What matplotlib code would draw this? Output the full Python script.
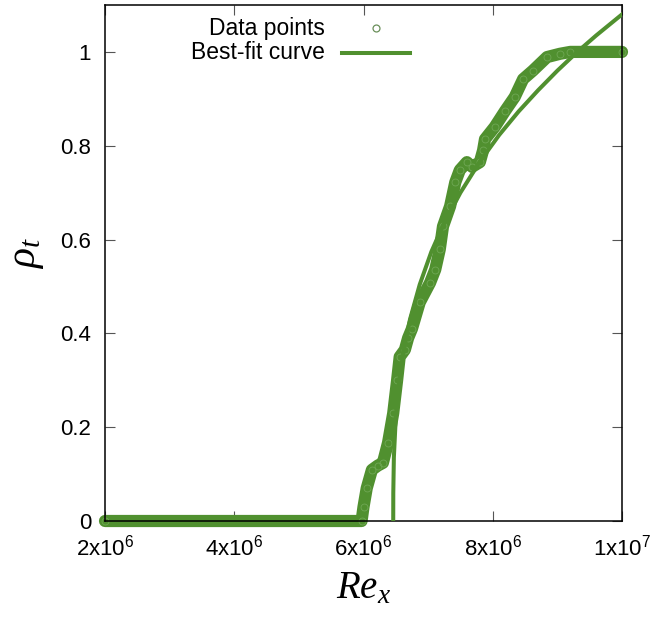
import numpy as np
import matplotlib.pyplot as plt

plt.rcParams['font.family'] = ['Liberation Sans', 'DejaVu Sans']
plt.rcParams['mathtext.fontset'] = 'custom'
plt.rcParams['mathtext.rm'] = 'Liberation Sans'
plt.rcParams['mathtext.it'] = 'Liberation Serif:italic'

# data points (Re_x in units of 1e6, rho_t)
data_x = [2.00, 5.97, 6.00, 6.05, 6.13, 6.22, 6.30, 6.38, 6.46, 6.52, 6.56, 6.64,
          6.69, 6.75, 6.87, 7.03, 7.11, 7.18, 7.23, 7.34, 7.42, 7.49, 7.60, 7.68,
          7.80, 7.85, 7.88, 8.03, 8.19, 8.34, 8.47, 8.62, 8.84, 9.04, 9.20, 10.0]
data_y = [0.0, 0.0, 0.03, 0.07, 0.109, 0.118, 0.124, 0.167, 0.23, 0.30, 0.35, 0.365,
          0.39, 0.41, 0.466, 0.508, 0.536, 0.579, 0.628, 0.671, 0.722, 0.748, 0.765, 0.755,
          0.765, 0.79, 0.814, 0.84, 0.874, 0.904, 0.942, 0.96, 0.989, 0.996, 1.0, 1.0]

# best-fit curve
fit_x = [6.460, 6.461, 6.47, 6.50, 6.55, 6.62, 6.72, 6.87, 7.05, 7.23, 7.50,
         7.80, 8.10, 8.40, 8.70, 9.00, 9.30, 9.60, 10.0]
fit_y = [0.0, 0.06, 0.136, 0.222, 0.295, 0.362, 0.43, 0.504, 0.574, 0.63, 0.70,
         0.766, 0.823, 0.873, 0.918, 0.96, 0.999, 1.035, 1.08]

xticks = [2, 4, 6, 8, 10]
xticklabels = [r'$\mathregular{2x10^{6}}$', r'$\mathregular{4x10^{6}}$', r'$\mathregular{6x10^{6}}$',
               r'$\mathregular{8x10^{6}}$', r'$\mathregular{1x10^{7}}$']
yticks = [0, 0.2, 0.4, 0.6, 0.8, 1]
yticklabels = ['0', '0.2', '0.4', '0.6', '0.8', '1']

green = '#50902f'

fig = plt.figure(figsize=(6.57, 6.17), dpi=100)
ax = fig.add_axes([105/657, 96/617, 517/657, 516/617])

ax.plot(data_x, data_y, color=green, lw=8.8, solid_capstyle='round',
        solid_joinstyle='round', clip_on=False, zorder=2)
ax.plot(data_x, data_y, ls='none', marker='o', ms=5, mfc='none', mec='#6fa854',
        mew=0.6, clip_on=False, zorder=2)
ax.plot(fit_x, fit_y, color=green, lw=2.9, zorder=3)

ax.set_xlim(2, 10)
ax.set_ylim(0, 1.1)
ax.set_xticks(xticks)
ax.set_xticklabels(xticklabels)
ax.set_yticks(yticks)
ax.set_yticklabels(yticklabels)
ax.tick_params(direction='in', length=7, width=0.8, color='#555555',
               top=True, right=True, labelsize=16)
ax.tick_params(axis='x', pad=10)
ax.tick_params(axis='y', pad=10)
for s in ax.spines.values():
    s.set_linewidth(1.1)

ax.set_xlabel(r'$Re_x$', fontsize=28)
ax.xaxis.set_label_coords(0.5, -0.095)
ax.set_ylabel(r'$\rho_t$', fontsize=30)
ax.yaxis.set_label_coords(-0.115, 0.52)

# gnuplot-style key: text right-aligned, sample to the right
ax.text(0.4255, 0.955, 'Data points', transform=ax.transAxes, ha='right',
        va='center', fontsize=16.5)
ax.plot([0.524], [0.955], transform=ax.transAxes, ls='none', marker='o', ms=5,
        mfc='none', mec='#6a8f5a', mew=0.9, clip_on=False)
ax.text(0.4255, 0.907, 'Best-fit curve', transform=ax.transAxes, ha='right',
        va='center', fontsize=16.5)
ax.plot([0.458, 0.590], [0.907, 0.907], transform=ax.transAxes, color=green,
        lw=2.9, clip_on=False)

fig.savefig('out.png', dpi=100)
